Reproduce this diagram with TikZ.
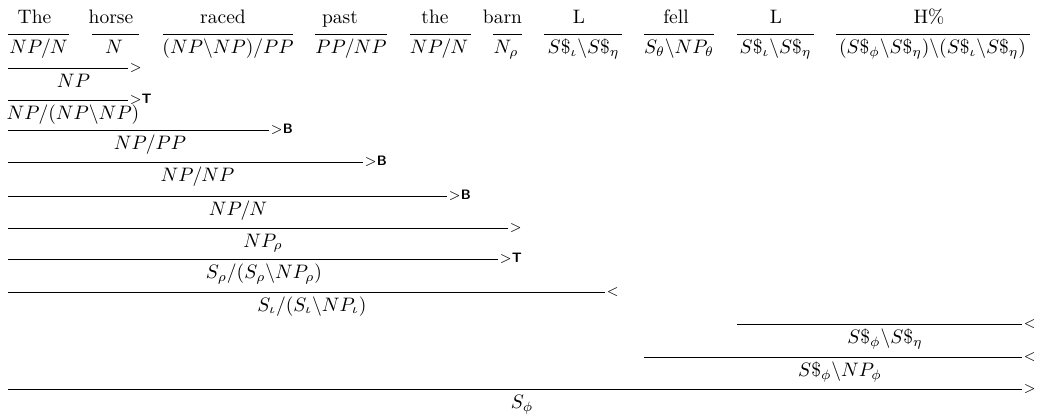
\documentclass[tikz,border=0pt]{standalone}
\begin{document}
\begin{tikzpicture}[x=0.5128pt,y=-0.5128pt,
  word/.style={anchor=base,inner sep=0pt},
  cat/.style={anchor=base,inner sep=0pt},
  rule/.style={line width=0.5pt,black},
  rlab/.style={anchor=base west,inner sep=0pt,xshift=0.6pt,yshift=-1.75pt,font=\scriptsize}]
\useasboundingbox (0,0) rectangle (1039,416);
% ---------- lexical row ----------
\node[word] (w1) at (34.5,23.3) {The};
\node[word] (w2) at (111,23.3) {horse};
\node[word] (w3) at (223,23.3) {raced};
\node[word] (w4) at (340,23.3) {past};
\node[word] (w5) at (435,23.3) {the};
\node[word] (w6) at (502.5,23.3) {barn};
\node[word] (w7) at (579,23.3) {L};
\node[word] (w8) at (676,23.3) {fell};
\node[word] (w9) at (776,23.3) {L};
\node[word] (w10) at (929,23.3) {H\%};
\coordinate (a1) at (8,34.3);   \coordinate (b1) at (69,34.3);
\coordinate (a2) at (92,34.3);  \coordinate (b2) at (139,34.3);
\coordinate (a3) at (163,34.3); \coordinate (b3) at (293,34.3);
\coordinate (a4) at (315,34.3); \coordinate (b4) at (387,34.3);
\coordinate (a5) at (410,34.3); \coordinate (b5) at (471,34.3);
\coordinate (a6) at (493,34.3); \coordinate (b6) at (522,34.3);
\coordinate (a7) at (544,34.3); \coordinate (b7) at (622,34.3);
\coordinate (a8) at (644,34.3); \coordinate (b8) at (714,34.3);
\coordinate (a9) at (737,34.3); \coordinate (b9) at (814,34.3);
\coordinate (a10) at (836,34.3); \coordinate (b10) at (1030,34.3);
\foreach \i in {1,...,10} {\draw[rule] (a\i) -- (b\i);}
\node[cat] (c1) at (38.5,53.3) {$NP/N$};
\node[cat] (c2) at (114,53.3) {$N$};
\node[cat] (c3) at (228,53.3) {$(NP\backslash NP)/PP$};
\node[cat] (c4) at (351,53.3) {$PP/NP$};
\node[cat] (c5) at (439,53.3) {$NP/N$};
\node[cat] (c6) at (506,53.3) {$N_\rho$};
\node[cat] (c7) at (583.5,53.3) {$S\$_\iota\backslash S\$_\eta$};
\node[cat] (c8) at (679,53.3) {$S_\theta\backslash NP_\theta$};
\node[cat] (c9) at (775.5,53.3) {$S\$_\iota\backslash S\$_\eta$};
\node[cat] (c10) at (932.5,53.3) {$(S\$_\phi\backslash S\$_\eta)\backslash(S\$_\iota\backslash S\$_\eta)$};
% ---------- derivation ----------
\coordinate (d1a) at (8,68.3);    \coordinate (d1b) at (128,68.3);
\coordinate (d2a) at (8,100.5);   \coordinate (d2b) at (128,100.5);
\coordinate (d3a) at (8,130.5);   \coordinate (d3b) at (269,130.5);
\coordinate (d4a) at (8,162.5);   \coordinate (d4b) at (363,162.5);
\coordinate (d5a) at (8,196);     \coordinate (d5b) at (447,196);
\coordinate (d6a) at (8,228);     \coordinate (d6b) at (508,228);
\coordinate (d7a) at (8,259.5);   \coordinate (d7b) at (498,259.5);
\coordinate (d8a) at (8,292);     \coordinate (d8b) at (605,292);
\coordinate (d9a) at (737,324.5); \coordinate (d9b) at (1022,324.5);
\coordinate (d10a) at (644,357.3);\coordinate (d10b) at (1022,357.3);
\coordinate (d11a) at (8,389.3);  \coordinate (d11b) at (1022,389.3);
\foreach \i in {1,...,11} {\draw[rule] (d\i a) -- (d\i b);}
\node[rlab] (r1) at (d1b) {$>$};
\node[rlab] (r2) at (d2b) {$>$\textsf{\textbf{T}}};
\node[rlab] (r3) at (d3b) {$>$\textsf{\textbf{B}}};
\node[rlab] (r4) at (d4b) {$>$\textsf{\textbf{B}}};
\node[rlab] (r5) at (d5b) {$>$\textsf{\textbf{B}}};
\node[rlab] (r6) at (d6b) {$>$};
\node[rlab] (r7) at (d7b) {$>$\textsf{\textbf{T}}};
\node[rlab] (r8) at (d8b) {$<$};
\node[rlab] (r9) at (d9b) {$<$};
\node[rlab] (r10) at (d10b) {$<$};
\node[rlab] (r11) at (d11b) {$>$};
\node[cat] (n1) at (73.5,87.3) {$NP$};
\node[cat] (n2) at (73,119.5) {$NP/(NP\backslash NP)$};
\node[cat] (n3) at (150,149.5) {$NP/PP$};
\node[cat] (n4) at (197.5,181.5) {$NP/NP$};
\node[cat] (n5) at (238,215) {$NP/N$};
\node[cat] (n6) at (263,247) {$NP_\rho$};
\node[cat] (n7) at (264,278.5) {$S_\rho/(S_\rho\backslash NP_\rho)$};
\node[cat] (n8) at (312,311) {$S_\iota/(S_\iota\backslash NP_\iota)$};
\node[cat] (n9) at (885,343.5) {$S\$_\phi\backslash S\$_\eta$};
\node[cat] (n10) at (840,376.3) {$S\$_\phi\backslash NP_\phi$};
\node[cat] (n11) at (522,408.3) {$S_\phi$};
\end{tikzpicture}
\end{document}
